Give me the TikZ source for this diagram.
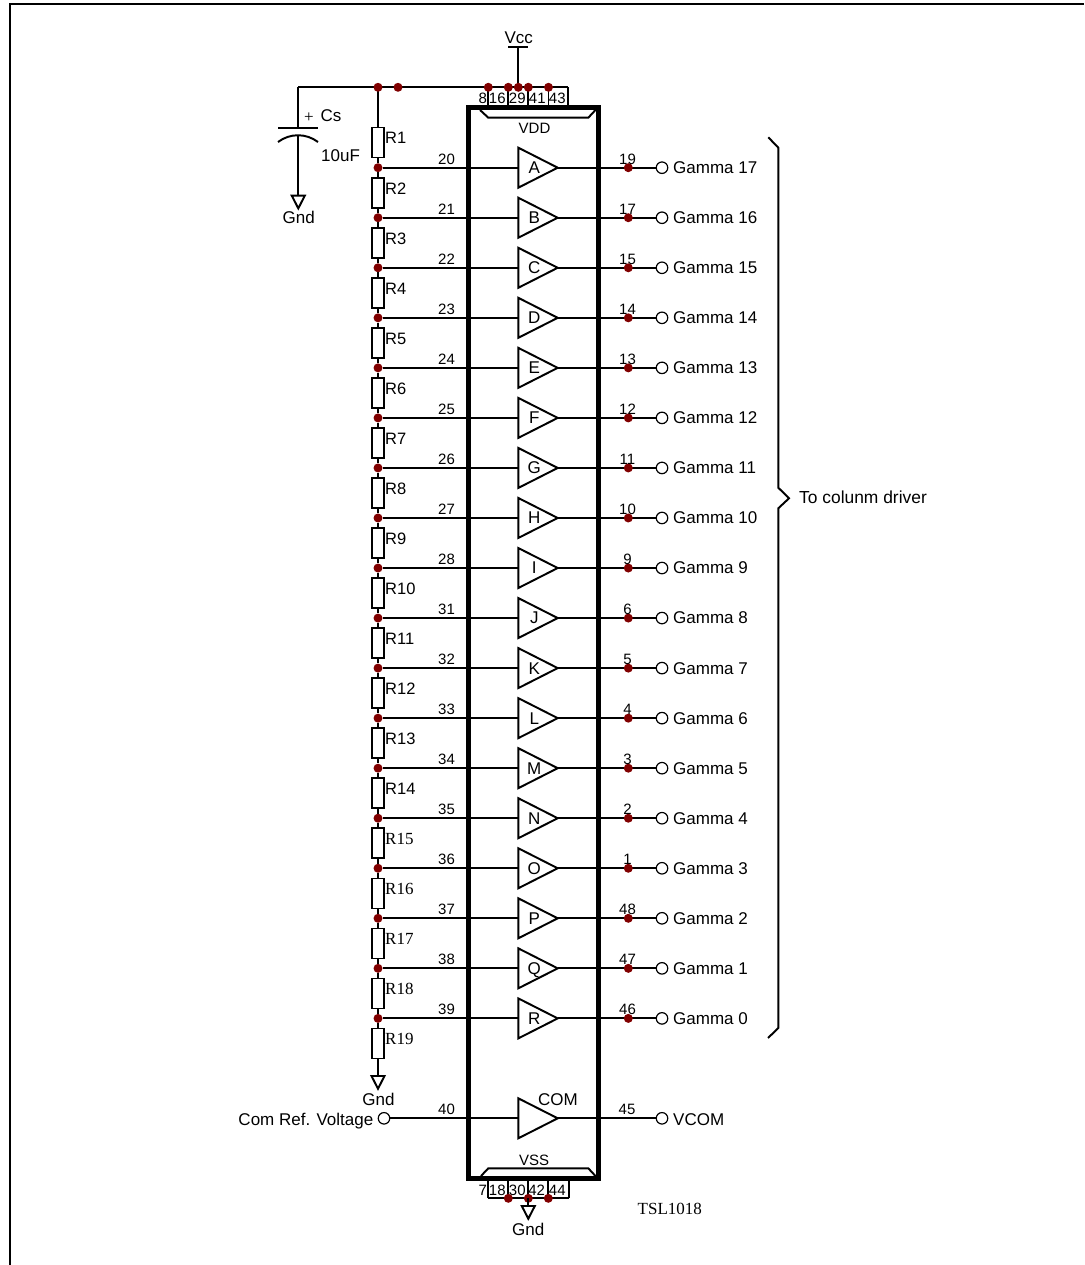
\documentclass[tikz,border=0pt]{standalone}
\usepackage{fontspec}
\setmainfont{Liberation Sans}
\newfontfamily\serifface{Liberation Serif}
\definecolor{dotred}{HTML}{800000}
\tikzset{
  wire/.style={line width=1.95pt,line cap=butt,line join=miter},
  junction/.style={circle,fill=dotred,inner sep=0pt,minimum size=9pt,draw=none},
  terminal/.style={circle,draw=black,line width=1.2pt,fill=white,inner sep=0pt,minimum size=11.5pt},
  resbox/.style={rectangle,draw=black,line width=1.6pt,fill=white,inner sep=0pt,minimum width=12pt,minimum height=30pt},
  chipbox/.style={rectangle,draw=black,line width=5.2pt,inner sep=0pt,minimum width=130pt,minimum height=1071pt},
  big/.style={font=\fontsize{17}{17}\selectfont,inner sep=0pt},
  small/.style={font=\fontsize{15}{15}\selectfont,inner sep=0pt},
  rlabel/.style={font=\fontsize{16.5}{16.5}\selectfont,inner sep=0pt},
  serifbig/.style={font=\fontsize{17}{17}\selectfont\serifface,inner sep=0pt}
}
\begin{document}
\begin{tikzpicture}[x=1pt,y=-1pt]
\useasboundingbox (0,0) rectangle (1084,1265);
% page frame (top and left only)
\draw[line width=2.2pt] (10,1265) -- (10,4) -- (1084,4);

% supply rail
\coordinate (railL) at (298.3,87.3);
\coordinate (railR) at (568.3,87.3);
\draw[wire] (railL) -- (railR);
\foreach \n/\x in {r/378,s/398,a/488.3,b/508.3,v/518.3,c/528.3,d/548.5}
  \coordinate (top\n) at (\x,87.3);

% chip
\node[chipbox] (chip) at (533.4,643) {};
\foreach \n in {a,b,c,d}
  \draw[wire] (top\n) -- (top\n |- chip.north);
\draw[wire] (railR) -- (railR |- chip.north);
\foreach \x/\t in {482.7/8,497.3/16,517.3/29,537.3/41,557.3/43}
  \node[small,anchor=base] (pt\t) at (\x,104) {\t};
\draw[wire] (480,110) -- (488.3,117.7) -- (588.3,117.7) -- (595.5,110);
\node[small,anchor=base] (vdd) at (534.5,134) {VDD};
\draw[wire] (481,1176) -- (488.3,1168.3) -- (588.3,1168.3) -- (595.5,1176);
\node[small,anchor=base] (vss) at (534,1165) {VSS};

% Vcc
\coordinate (vccbar) at (518.3,47.3);
\draw[wire] (topv) -- (vccbar);
\draw[wire] ([xshift=-10pt]vccbar) -- ([xshift=10pt]vccbar);
\node[big,anchor=base] (vcc) at (518.8,44) {Vcc};

% capacitor
\coordinate (capT) at (298.3,127.7);
\coordinate (capB) at (298.3,135);
\coordinate (capG) at (298.3,195.7);
\draw[wire] (railL) -- (capT);
\draw[wire] ([xshift=-20pt]capT) -- ([xshift=20pt]capT);
\draw[wire] (278,142) .. controls (290,133) and (306,133) .. (318,142);
\draw[wire] (capB) -- (capG);
\draw[wire,line join=miter] (capG) ++(-6.5,0) -- ++(13,0) -- ++(-6.5,12.7) -- cycle;
\node[small,anchor=center,font=\fontsize{17}{17}\selectfont\serifface] (plus) at (309,117.5) {+};
\node[big,anchor=base west] (cs) at (320.5,121.7) {Cs};
\node[big,anchor=base west] (cval) at (321,161.7) {10uF};
\node[big,anchor=base] (gndc) at (298.8,224) {Gnd};

% rows
\foreach \i/\L/\lp/\rp in {0/A/20/19,1/B/21/17,2/C/22/15,3/D/23/14,4/E/24/13,5/F/25/12,6/G/26/11,7/H/27/10,8/I/28/9,9/J/31/6,10/K/32/5,11/L/33/4,12/M/34/3,13/N/35/2,14/O/36/1,15/P/37/48,16/Q/38/47,17/R/39/46}{
  \pgfmathsetmacro\yy{167.7+50.04*\i}
  \pgfmathsetmacro\yt{\yy-3.6}
  \pgfmathsetmacro\yb{\yy+5.9}
  \pgfmathsetmacro\yr{\yy-25}
  \pgfmathsetmacro\yl{\yy-23.7}
  \pgfmathtruncatemacro\rn{\i+1}
  \pgfmathtruncatemacro\gn{17-\i}
  \coordinate (in\i) at (518.3,\yy);
  \coordinate (out\i) at (557.7,\yy);
  \node[junction] (jl\i) at (378,\yy) {};
  \node[terminal] (t\i) at (662,\yy) {};
  \node[resbox] (R\rn) at (378,\yr) {};
  \draw[wire] (jl\i) -- (in\i);
  \draw[wire] (out\i) -- (t\i);
  \draw[wire] (in\i) ++(0,-20) -- ++(39.4,20) -- ++(-39.4,20) -- cycle;
  \node[junction] (jr\i) at (628.3,\yy) {};
  \node[big,anchor=base] (b\i) at (534.3,\yb) {\L};
  \node[small,anchor=base] (pl\i) at (446.5,\yt) {\lp};
  \node[small,anchor=base] (pr\i) at (627.5,\yt) {\rp};
  \node[big,anchor=base west] (g\i) at (673,\yb) {Gamma \gn};
  \ifnum\i<14
    \node[rlabel,anchor=base west] (rl\i) at (385,\yl) {R\rn};
  \else
    \node[serifbig,anchor=base west] (rl\i) at (385,\yl) {R\rn};
  \fi
  \draw[wire] (R\rn.south) -- (jl\i);
}
% resistor chain
\foreach \i/\r in {0/2,1/3,2/4,3/5,4/6,5/7,6/8,7/9,8/10,9/11,10/12,11/13,12/14,13/15,14/16,15/17,16/18}
  \draw[wire] (jl\i) -- (R\r.north);
\node[resbox] (R19) at (378,1043.4) {};
\draw[wire] (jl17) -- (R19.north);
\node[serifbig,anchor=base west] (rl18) at (385,1044) {R19};
\coordinate (g19) at (378,1076);
\draw[wire] (R19.south) -- (g19);
\draw[wire] (g19) ++(-6.5,0) -- ++(13,0) -- ++(-6.5,12.7) -- cycle;
\node[big,anchor=base] (gndr) at (378.5,1105) {Gnd};
\draw[wire] (topr) -- (R1.north);
\node[junction] at (topr) {};
\node[junction] at (tops) {};
\node[junction] at (topa) {};
\node[junction] at (topb) {};
\node[junction] at (topv) {};
\node[junction] at (topc) {};
\node[junction] at (topd) {};

% COM
\coordinate (cin) at (518.3,1118.3);
\coordinate (cout) at (557.7,1118.3);
\node[terminal] (tcl) at (384,1118.3) {};
\node[terminal] (tcr) at (662,1118.3) {};
\draw[wire] (tcl) -- (cin);
\draw[wire] (cout) -- (tcr);
\draw[wire] (cin) ++(0,-20) -- ++(39.4,20) -- ++(-39.4,20) -- cycle;
\node[big,anchor=base] (com) at (558,1105) {COM};
\node[big,anchor=base east] (cref) at (373.5,1125) {Com Ref. Voltage};
\node[big,anchor=base west] (vcom) at (673,1125) {VCOM};
\node[small,anchor=base] (p40) at (446.5,1114.7) {40};
\node[small,anchor=base] (p45) at (627,1114.7) {45};

% bottom pins
\foreach \n/\x in {a/488.3,b/508.3,c/528.3,d/548.3,e/569}{
  \coordinate (bot\n) at (\x,1198.3);
  \draw[wire] (bot\n) -- (bot\n |- chip.south);
}
\draw[wire] (bota) -- (bote);
\foreach \x/\t in {482.7/7,497.3/18,517.3/30,536.7/42,557.3/44}
  \node[small,anchor=base] (pb\t) at (\x,1195) {\t};
\node[junction] at (botb) {};
\node[junction] at (botc) {};
\node[junction] at (botd) {};
\coordinate (gb) at (528.3,1206);
\draw[wire] (botc) -- (gb);
\draw[wire] (gb) ++(-6.5,0) -- ++(13,0) -- ++(-6.5,12.7) -- cycle;
\node[big,anchor=base] (gndb) at (528.3,1235) {Gnd};
\node[serifbig,anchor=base] (tsl) at (669.8,1214) {TSL1018};

% brace
\draw[wire] (768.3,137.3) -- (778.3,147.7) -- (778.3,487.7) -- (789,498.3) -- (778.3,508.3) -- (778.3,1028) -- (768,1038);
\node[big,anchor=base west,font=\fontsize{17.4}{17.4}\selectfont] (drv) at (799,503.3) {To colunm driver};
\end{tikzpicture}
\end{document}
